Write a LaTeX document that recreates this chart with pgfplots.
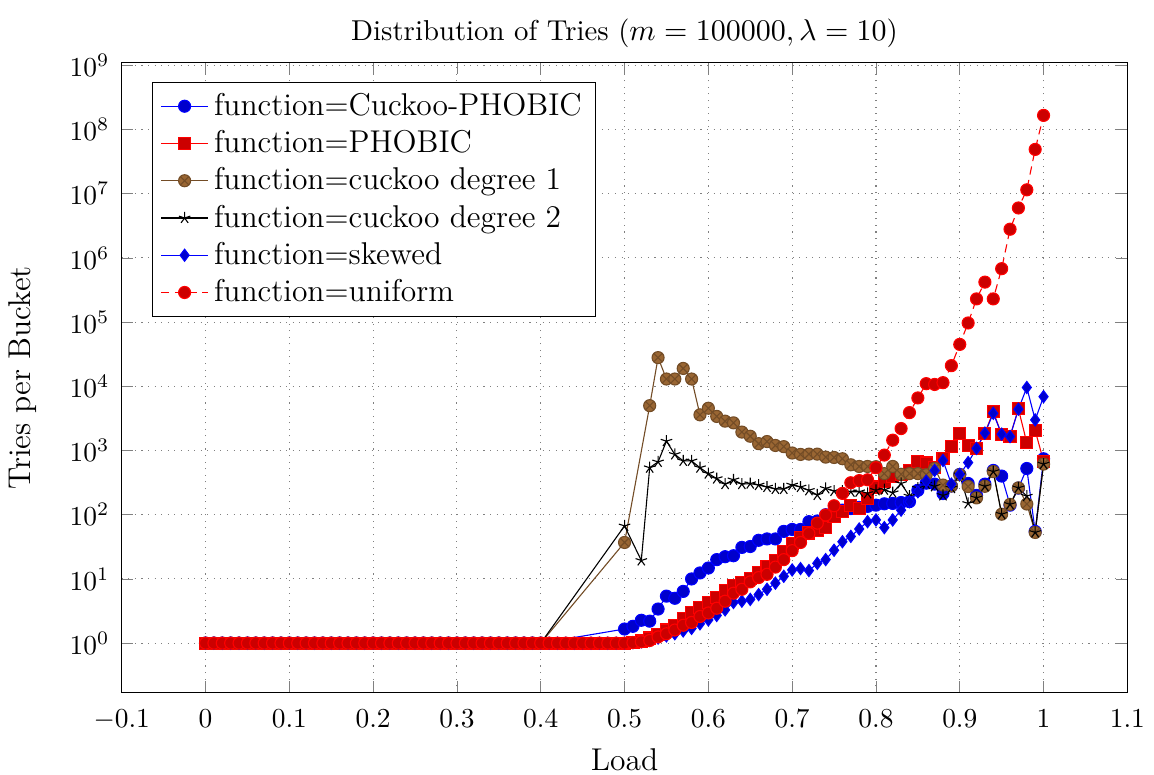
\documentclass[border=0pt]{standalone}
\usepackage{pgfplots}
\usepackage{pgfplotstable}
\pgfplotsset{compat=1.18}

% Cuckoo-PHOBIC
\pgfplotstableread{
x y
0.00 1
0.01 1
0.02 1
0.03 1
0.04 1
0.05 1
0.06 1
0.07 1
0.08 1
0.09 1
0.10 1
0.11 1
0.12 1
0.13 1
0.14 1
0.15 1
0.16 1
0.17 1
0.18 1
0.19 1
0.20 1
0.21 1
0.22 1
0.23 1
0.24 1
0.25 1
0.26 1
0.27 1
0.28 1
0.29 1
0.30 1
0.31 1
0.32 1
0.33 1
0.34 1
0.35 1
0.36 1
0.37 1
0.38 1
0.39 1
0.40 1
0.50 1.66
0.51 1.83
0.52 2.27
0.53 2.2
0.54 3.4
0.55 5.4
0.56 5.0
0.57 6.4
0.58 10
0.59 12.4
0.60 14.8
0.61 20
0.62 22.2
0.63 23
0.64 31
0.65 32
0.66 40
0.67 42
0.68 42
0.69 55
0.70 59
0.71 59
0.72 78
0.73 80
0.74 100
0.75 107
0.76 118
0.77 125
0.78 130
0.79 135
0.80 141
0.81 148
0.82 150
0.83 155
0.84 160
0.85 240
0.86 310
0.87 300
0.88 214
0.89 280
0.90 425
0.91 307
0.92 200
0.93 300
0.94 490
0.95 400
0.96 141
0.97 260
0.98 525
0.99 55
1.00 745
}\cphobic

% PHOBIC
\pgfplotstableread{
x y
0.00 1
0.01 1
0.02 1
0.03 1
0.04 1
0.05 1
0.06 1
0.07 1
0.08 1
0.09 1
0.10 1
0.11 1
0.12 1
0.13 1
0.14 1
0.15 1
0.16 1
0.17 1
0.18 1
0.19 1
0.20 1
0.21 1
0.22 1
0.23 1
0.24 1
0.25 1
0.26 1
0.27 1
0.28 1
0.29 1
0.30 1
0.31 1
0.32 1
0.33 1
0.34 1
0.35 1
0.36 1
0.37 1
0.38 1
0.39 1
0.40 1
0.41 1
0.42 1
0.43 1
0.44 1
0.45 1
0.46 1
0.47 1
0.48 1
0.49 1
0.50 1.0
0.51 1.02
0.52 1.08
0.53 1.2
0.54 1.35
0.55 1.6
0.56 1.9
0.57 2.4
0.58 3.0
0.59 3.6
0.60 4.3
0.61 5.2
0.62 6.5
0.63 7.8
0.64 8.8
0.65 10.3
0.66 12.4
0.67 15.6
0.68 19.5
0.69 27
0.70 36
0.71 44
0.72 52
0.73 57
0.74 64
0.75 95
0.76 111
0.77 138
0.78 125
0.79 180
0.80 270
0.81 325
0.82 400
0.83 420
0.84 490
0.85 665
0.86 640
0.87 540
0.88 745
0.89 1170
0.90 1870
0.91 1200
0.92 1070
0.93 1870
0.94 4050
0.95 1770
0.96 1670
0.97 4450
0.98 1320
0.99 2060
1.00 680
}\phobic

% cuckoo degree 1
\pgfplotstableread{
x y
0.00 1
0.01 1
0.02 1
0.03 1
0.04 1
0.05 1
0.06 1
0.07 1
0.08 1
0.09 1
0.10 1
0.11 1
0.12 1
0.13 1
0.14 1
0.15 1
0.16 1
0.17 1
0.18 1
0.19 1
0.20 1
0.21 1
0.22 1
0.23 1
0.24 1
0.25 1
0.26 1
0.27 1
0.28 1
0.29 1
0.30 1
0.31 1
0.32 1
0.33 1
0.34 1
0.35 1
0.36 1
0.37 1
0.38 1
0.39 1
0.40 1
0.50 37
0.53 5000
0.54 28000
0.55 13000
0.56 13000
0.57 19000
0.58 13000
0.59 3600
0.60 4560
0.61 3400
0.62 2870
0.63 2700
0.64 1940
0.65 1670
0.66 1280
0.67 1380
0.68 1200
0.69 1150
0.70 915
0.71 870
0.72 880
0.73 880
0.74 790
0.75 780
0.76 745
0.77 600
0.78 565
0.79 565
0.80 560
0.81 437
0.82 565
0.83 427
0.84 437
0.85 437
0.86 420
0.87 525
0.88 290
0.89 280
0.90 420
0.91 275
0.92 183
0.93 277
0.94 470
0.95 102
0.96 145
0.97 262
0.98 147
0.99 53
1.00 615
}\cuckooone

% cuckoo degree 2
\pgfplotstableread{
x y
0.00 1
0.01 1
0.02 1
0.03 1
0.04 1
0.05 1
0.06 1
0.07 1
0.08 1
0.09 1
0.10 1
0.11 1
0.12 1
0.13 1
0.14 1
0.15 1
0.16 1
0.17 1
0.18 1
0.19 1
0.20 1
0.21 1
0.22 1
0.23 1
0.24 1
0.25 1
0.26 1
0.27 1
0.28 1
0.29 1
0.30 1
0.31 1
0.32 1
0.33 1
0.34 1
0.35 1
0.36 1
0.37 1
0.38 1
0.39 1
0.40 1
0.50 67
0.52 19.4
0.53 540
0.54 665
0.55 1400
0.56 870
0.57 690
0.58 690
0.59 540
0.60 437
0.61 366
0.62 300
0.63 350
0.64 300
0.65 305
0.66 290
0.67 270
0.68 252
0.69 252
0.70 290
0.71 270
0.72 240
0.73 203
0.74 257
0.75 234
0.76 232
0.77 228
0.78 228
0.79 215
0.80 240
0.81 245
0.82 220
0.83 307
0.84 195
0.85 260
0.86 300
0.87 277
0.88 200
0.89 260
0.90 420
0.91 150
0.92 183
0.93 277
0.94 470
0.95 102
0.96 145
0.97 262
0.98 195
0.99 53
1.00 615
}\cuckootwo

% skewed
\pgfplotstableread{
x y
0.00 1
0.01 1
0.02 1
0.03 1
0.04 1
0.05 1
0.06 1
0.07 1
0.08 1
0.09 1
0.10 1
0.11 1
0.12 1
0.13 1
0.14 1
0.15 1
0.16 1
0.17 1
0.18 1
0.19 1
0.20 1
0.21 1
0.22 1
0.23 1
0.24 1
0.25 1
0.26 1
0.27 1
0.28 1
0.29 1
0.30 1
0.31 1
0.32 1
0.33 1
0.34 1
0.35 1
0.36 1
0.37 1
0.38 1
0.39 1
0.40 1
0.41 1
0.42 1
0.43 1
0.44 1
0.45 1
0.46 1
0.47 1
0.48 1
0.49 1
0.50 1.0
0.51 1.02
0.52 1.05
0.53 1.1
0.54 1.2
0.55 1.3
0.56 1.4
0.57 1.55
0.58 1.7
0.59 2.0
0.60 2.3
0.61 2.7
0.62 3.3
0.63 4.3
0.64 4.5
0.65 4.8
0.66 5.7
0.67 6.9
0.68 8.6
0.69 11
0.70 13.8
0.71 14.5
0.72 13.5
0.73 17.5
0.74 20
0.75 28
0.76 38
0.77 46
0.78 60
0.79 78
0.80 83
0.81 63
0.82 83
0.83 118
0.84 160
0.85 228
0.86 333
0.87 490
0.88 700
0.89 300
0.90 425
0.91 650
0.92 1080
0.93 1870
0.94 3800
0.95 1800
0.96 1650
0.97 4400
0.98 9600
0.99 3000
1.00 6900
}\skewed

% uniform
\pgfplotstableread{
x y
0.00 1
0.01 1
0.02 1
0.03 1
0.04 1
0.05 1
0.06 1
0.07 1
0.08 1
0.09 1
0.10 1
0.11 1
0.12 1
0.13 1
0.14 1
0.15 1
0.16 1
0.17 1
0.18 1
0.19 1
0.20 1
0.21 1
0.22 1
0.23 1
0.24 1
0.25 1
0.26 1
0.27 1
0.28 1
0.29 1
0.30 1
0.31 1
0.32 1
0.33 1
0.34 1
0.35 1
0.36 1
0.37 1
0.38 1
0.39 1
0.40 1
0.41 1
0.42 1
0.43 1
0.44 1
0.45 1
0.46 1
0.47 1
0.48 1
0.49 1
0.50 1.0
0.51 1.02
0.52 1.05
0.53 1.1
0.54 1.25
0.55 1.4
0.56 1.6
0.57 1.9
0.58 2.1
0.59 2.6
0.60 2.95
0.61 3.5
0.62 4.5
0.63 6.0
0.64 6.9
0.65 9.0
0.66 10.5
0.67 11.8
0.68 15.3
0.69 20
0.70 27.6
0.71 37
0.72 51
0.73 74
0.74 99
0.75 138
0.76 215
0.77 315
0.78 340
0.79 350
0.80 540
0.81 850
0.82 1450
0.83 2200
0.84 3900
0.85 6600
0.86 11000
0.87 10700
0.88 11400
0.89 21000
0.90 45000
0.91 97000
0.92 230000
0.93 420000
0.94 230000
0.95 680000
0.96 2800000
0.97 6000000
0.98 11500000
0.99 49000000
1.00 166000000
}\uniform

\begin{document}
\begin{tikzpicture}
\begin{axis}[
  scale only axis,
  width=367pt, height=230pt,
  ymode=log, log basis y=10,
  xmin=-0.1, xmax=1.1,
  ymin=0.168, ymax=1.1e9,
  xtick={-0.1,0,0.1,0.2,0.3,0.4,0.5,0.6,0.7,0.8,0.9,1,1.1},
  ytick={1,10,100,1000,10000,100000,1000000,10000000,100000000,1000000000},
  grid=major,
  major grid style={dotted, gray},
  mark size=2.2pt,
  xticklabel shift=2.5pt,
  yticklabel shift=1pt,
  ylabel shift=5pt,
  xlabel shift=0pt,
  title style={font=\fontsize{10.5}{12.5}\selectfont, yshift=-4pt},
  label style={font=\fontsize{11.5}{13}\selectfont},
  title={Distribution of Tries ($m = 100000, \lambda = 10$)},
  xlabel={Load},
  ylabel={Tries per Bucket},
  legend pos=north west,
  legend cell align=left,
  legend style={font=\fontsize{11.5}{13}\selectfont},
]
\addplot table[x=x,y=y] {\cphobic};
\addlegendentry{function=Cuckoo-PHOBIC}
\addplot table[x=x,y=y] {\phobic};
\addlegendentry{function=PHOBIC}
\addplot table[x=x,y=y] {\cuckooone};
\addlegendentry{function=cuckoo degree 1}
\addplot table[x=x,y=y] {\cuckootwo};
\addlegendentry{function=cuckoo degree 2}
\addplot table[x=x,y=y] {\skewed};
\addlegendentry{function=skewed}
\addplot table[x=x,y=y] {\uniform};
\addlegendentry{function=uniform}
\end{axis}
\coordinate (bbsw) at (current bounding box.south west);
\coordinate (bbne) at (current bounding box.north east);
\pgfresetboundingbox
\path ([yshift=2pt]bbsw) rectangle ([yshift=3.5pt]bbne);
\end{tikzpicture}
\end{document}
